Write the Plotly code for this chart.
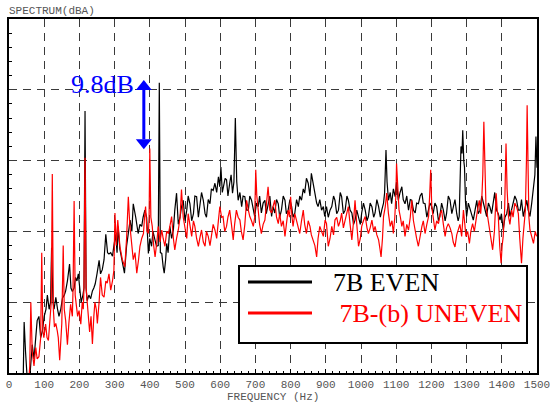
import plotly.graph_objects as go

# ---- data ----
black_freq = [40, 43, 47, 52, 57, 62, 66, 71, 76, 80, 85, 90, 95, 100, 105, 109, 114, 118, 121, 125,
              128, 133, 138, 142, 147, 152, 157, 161, 166, 172, 176, 180, 185, 189, 193, 197, 201, 205, 210, 213,
              216, 219, 222, 227, 232, 237, 241, 245, 250, 256, 260, 265, 270, 275, 280, 284, 289, 294, 298, 303,
              307, 310, 315, 320, 328, 334, 339, 344, 349, 353, 360, 367, 372, 377, 381, 386, 391, 396, 400, 405,
              409, 413, 419, 424, 427, 430, 434, 438, 441, 445, 448, 452, 457, 462, 467, 471, 476, 481, 486, 490,
              495, 500, 505, 509, 514, 519, 524, 528, 533, 538, 542, 547, 552, 557, 561, 566, 571, 575, 580, 585,
              590, 595, 599, 602, 606, 610, 614, 618, 622, 627, 631, 635, 639, 643, 647, 651, 656, 661, 665, 670,
              675, 680, 684, 689, 694, 698, 703, 708, 712, 717, 722, 727, 731, 736, 741, 746, 750, 755, 760, 765,
              769, 774, 779, 784, 788, 793, 798, 803, 807, 812, 817, 822, 826, 831, 836, 840, 845, 850, 855, 859,
              864, 869, 874, 878, 883, 888, 893, 897, 902, 907, 912, 917, 922, 926, 931, 936, 941, 945, 950, 955,
              960, 964, 969, 974, 979, 983, 988, 993, 998, 1002, 1007, 1012, 1017, 1021, 1026, 1031, 1036, 1040, 1045, 1050,
              1055, 1059, 1064, 1067, 1071, 1074, 1078, 1083, 1087, 1092, 1097, 1101, 1106, 1111, 1116, 1120, 1125, 1130, 1135, 1140,
              1144, 1149, 1154, 1158, 1163, 1168, 1173, 1177, 1182, 1187, 1192, 1196, 1201, 1205, 1210, 1215, 1220, 1224, 1229, 1234,
              1239, 1243, 1248, 1253, 1258, 1262, 1267, 1272, 1276, 1279, 1282, 1284, 1287, 1289, 1292, 1294, 1297, 1300, 1305, 1310,
              1314, 1319, 1324, 1329, 1333, 1338, 1343, 1348, 1352, 1357, 1362, 1366, 1371, 1376, 1380, 1385, 1390, 1395, 1399, 1404,
              1409, 1414, 1419, 1423, 1428, 1433, 1437, 1442, 1447, 1452, 1456, 1461, 1466, 1471, 1475, 1480, 1485, 1490, 1494, 1497,
              1500]
black_level = [-2, 7.2, 3, -1, -2, 1, 4, 2, 5, 7.4, 8, 5, 6, 8, 9, 11, 9, 10, 17.7, 10,
               9, 10.7, 9, 8, 9, 10.6, 11, 11.6, 13, 15.4, 12, 11.5, 12, 13.5, 13, 14, 12, 10, 11, 12,
               37, 12, 10.2, 11, 10.5, 11.6, 12, 12.6, 14, 15.9, 14, 14.6, 16, 19.6, 17, 16.8, 17, 16.5, 18, 19.6,
               17, 20.7, 17.5, 16, 14.1, 17.9, 19.5, 21.6, 20, 23.9, 22, 19.7, 21, 20.7, 22, 23, 22, 16.9, 19, 17.9,
               20, 19.3, 17.9, 18, 41, 17, 16.9, 15, 14.1, 16, 18.3, 17, 20.7, 19, 20.2, 23, 25.4, 21, 22, 23.5,
               24.4, 21.5, 23, 25, 23.9, 21.5, 22.5, 25, 24.9, 22, 23.5, 25.5, 24.4, 22.5, 22, 24.5, 23.9, 26, 25.8, 26.8,
               25.5, 27.7, 26.3, 29.1, 25.5, 26.5, 27.5, 27.3, 25, 26.8, 28, 25.4, 27, 36, 27, 24.4, 25.5, 23.5, 25, 24.9,
               23, 23, 25, 24.4, 23, 22.1, 24, 23.5, 25, 22.6, 24, 24.4, 22.5, 23.9, 25, 22.1, 23.5, 22.6, 24.5, 23.9,
               22, 23, 25, 24.4, 22.5, 23, 24.5, 23.5, 22, 22.6, 24.5, 23.5, 25, 24.4, 26, 25.4, 27.5, 26.8, 25, 28.2,
               26.5, 25.4, 24, 23.5, 24.5, 23, 23.5, 22.1, 23.5, 22, 23, 23.5, 25, 24.4, 22.5, 23, 25.5, 24.9, 22.5, 23,
               25, 24.4, 23, 22.6, 21, 21.6, 23, 22.1, 21, 22.6, 24, 23, 21.5, 22.1, 24, 23.5, 22, 22.6, 24.5, 23.5,
               22, 23, 24, 25.4, 31.5, 27, 24.4, 25.5, 23.9, 26, 24.9, 27, 24.4, 25.5, 26.3, 24.5, 23.9, 25, 23, 24.5,
               24.4, 23, 22.6, 24, 23.9, 25, 25.4, 24, 23.9, 22, 23, 24, 23.5, 22.5, 24, 23.5, 21.5, 22.1, 24, 23,
               21.5, 22.5, 25, 24.4, 22.5, 23.5, 24.5, 22.5, 21.5, 22.1, 27, 32, 31, 34.3, 30, 29.1, 24, 22.1, 24, 23,
               22.5, 21.6, 23, 24.4, 22.5, 23, 25, 24, 23, 22.1, 24, 23.5, 22.5, 24.4, 25.5, 23, 22.5, 21.6, 22.5, 20.2,
               22, 22.5, 24, 22.1, 23, 24, 25, 24.4, 23, 23, 24.5, 22.1, 23.5, 24.4, 23, 22.1, 24, 25.9, 28, 33.4,
               29]

red_freq = [55, 59, 62, 64, 66, 71, 76, 80, 85, 90, 93, 96, 99, 104, 108, 112, 118, 120, 123, 126,
            129, 133, 137, 140, 144, 147, 150, 154, 157, 161, 166, 170, 175, 180, 182, 185, 188, 191, 195, 199,
            204, 208, 211, 213, 216, 219, 223, 226, 229, 233, 237, 241, 244, 248, 251, 256, 260, 265, 270, 275,
            279, 284, 289, 294, 298, 301, 305, 309, 315, 322, 329, 334, 339, 343, 346, 350, 353, 358, 363, 368,
            372, 377, 382, 385, 388, 392, 396, 398, 400, 403, 407, 411, 415, 420, 424, 429, 434, 438, 443, 448,
            453, 458, 462, 467, 471, 476, 481, 486, 490, 495, 500, 505, 509, 514, 519, 524, 528, 533, 538, 542,
            547, 552, 557, 561, 566, 571, 576, 580, 585, 590, 595, 599, 604, 608, 613, 618, 622, 627, 632, 637,
            641, 646, 651, 656, 660, 665, 670, 675, 680, 684, 689, 694, 698, 701, 704, 708, 712, 717, 722, 727,
            731, 736, 741, 746, 750, 755, 760, 765, 769, 774, 779, 784, 788, 793, 797, 800, 804, 807, 812, 817,
            822, 826, 831, 836, 840, 845, 850, 855, 859, 864, 869, 874, 878, 883, 888, 893, 898, 902, 907, 912,
            917, 922, 926, 931, 936, 941, 945, 950, 955, 960, 964, 969, 974, 979, 983, 988, 993, 998, 1002, 1007,
            1012, 1017, 1021, 1026, 1031, 1036, 1040, 1045, 1050, 1054, 1057, 1061, 1064, 1069, 1073, 1078, 1083, 1088, 1092, 1096,
            1099, 1101, 1104, 1108, 1112, 1116, 1120, 1125, 1130, 1135, 1140, 1144, 1149, 1154, 1158, 1163, 1168, 1173, 1177, 1182,
            1187, 1192, 1195, 1198, 1201, 1206, 1210, 1215, 1220, 1225, 1229, 1234, 1239, 1243, 1248, 1253, 1258, 1262, 1267, 1272,
            1276, 1281, 1286, 1291, 1295, 1298, 1303, 1308, 1312, 1317, 1322, 1327, 1331, 1336, 1340, 1343, 1346, 1349, 1352, 1355,
            1360, 1365, 1369, 1374, 1379, 1384, 1387, 1390, 1394, 1398, 1401, 1404, 1408, 1410, 1412, 1415, 1419, 1423, 1428, 1432,
            1437, 1442, 1447, 1451, 1456, 1460, 1463, 1467, 1470, 1472, 1475, 1477, 1480, 1485, 1490, 1495, 1499]
red_level = [-2, 1, 10, 4, 3, 1, 3.6, 2, 2.3, 5, 17, 6, 5, 6.9, 5, 4.6, 9.3, 10, 28.1, 9,
             6.5, 7, 6, 5, 1.8, 5, 7, 18, 9, 7.4, 4, 7, 9.7, 8, 12, 24.3, 11, 9.7, 8, 8.8,
             6.9, 10, 9, 12, 30.4, 12, 9.2, 7, 5.8, 8, 4.1, 8, 10, 9, 7, 10, 13.5, 11, 10.7, 13,
             12.7, 14, 11.7, 13, 14.5, 22.6, 18, 21.6, 17.9, 16, 15, 19, 24.9, 21, 19.7, 18, 16, 17, 14.1, 16,
             17.9, 19, 19.7, 22, 23.5, 20, 19.7, 22, 31.7, 22, 20.7, 18, 16.4, 18.5, 20.7, 18.5, 20.2, 19, 17.9, 20,
             19.7, 21, 22.1, 19, 17.4, 19, 20.2, 22, 25.9, 22, 20.7, 19, 22.5, 21, 19.3, 21.5, 20.7, 19, 17.9, 19,
             20.2, 18.5, 17.9, 20, 19.3, 18, 19.7, 21, 20.2, 19, 21.6, 23.5, 22, 22.1, 20, 20.7, 22, 23, 21, 18.8,
             21, 23, 22, 21.6, 20, 18.8, 21, 24.4, 23, 22.1, 21.5, 20.7, 22, 28.7, 25, 23, 21, 19.7, 21, 21.6,
             23.5, 26.3, 23, 22.6, 23.5, 24.4, 22, 21.1, 22.5, 20.7, 21.5, 19.3, 21, 23, 22, 24.9, 22, 20.7, 22.5, 21.6,
             20.5, 19.7, 21.5, 23, 21, 19.7, 21.5, 20.7, 19.5, 18.8, 18, 16.4, 19, 20.7, 20, 19.3, 21.6, 21.1, 17.9, 19,
             20.7, 19.5, 21.6, 22, 20.7, 21.5, 22.6, 20.5, 21.6, 22.5, 23.5, 21, 18.8, 21.5, 24.4, 21, 17.9, 19, 20.7, 21.5,
             22.1, 20.5, 19.7, 20.5, 21.6, 20, 20.7, 19.5, 18.8, 17.5, 16.4, 19, 22.1, 23.5, 25.4, 22.5, 20.7, 21.5, 19.7, 22,
             25, 29.6, 26, 23, 22, 20.7, 21.5, 19.3, 21, 20.2, 22, 24.4, 21.5, 19.7, 19, 17.9, 19.5, 20.7, 21.5, 19.7,
             21, 22.1, 25, 28.7, 23.5, 22, 20.2, 21.5, 21.1, 22.5, 23, 21, 19.3, 20.5, 21.1, 20.5, 19.7, 18.5, 17.8, 19.5,
             20.2, 21, 19.3, 23, 21, 19.3, 20, 18.3, 20, 21.1, 20, 22.1, 23, 24.4, 22.5, 24.4, 28, 35.5, 27, 23.5,
             22, 20.2, 19, 17.4, 20, 25.4, 23, 22.1, 18, 15.5, 18, 19.3, 23, 28, 32.4, 26, 22.1, 21, 23, 22,
             24, 23.5, 22.5, 19, 15.5, 19, 21.1, 23, 30, 37.8, 28, 22, 20.2, 19, 18.3, 20, 19.3]

x_ticks = [0, 100, 200, 300, 400, 500, 600, 700, 800, 900, 1000, 1100, 1200, 1300, 1400, 1500]
series_names = ["7B EVEN", " 7B-(b) UNEVEN"]
series_colors = ["#000000", "#ff0000"]
diff_label = "9.8dB"
arrow_freq = 383
arrow_top = 41.4
arrow_bottom = 31.6

# ---- figure ----
W, H = 550, 403
L, R, T, B = 9, 13, 19, 30
PW, PH = W - L - R, H - T - B


def px(x):
    return (x - L) / PW


def py(y):
    return (H - B - y) / PH


mono = "Liberation Mono, Courier New, monospace"
serif = "Liberation Serif, Times New Roman, serif"
grid_col = "#3a3a3a"

fig = go.Figure()
fig.add_trace(go.Scatter(x=black_freq, y=black_level, mode="lines",
                         line=dict(color=series_colors[0], width=1.2), showlegend=False))
fig.add_trace(go.Scatter(x=red_freq, y=red_level, mode="lines",
                         line=dict(color=series_colors[1], width=1.2), showlegend=False))

fig.update_layout(
    width=W, height=H,
    margin=dict(l=L, r=R, t=T, b=B, pad=0, autoexpand=False),
    paper_bgcolor="white", plot_bgcolor="white",
    showlegend=False,
    xaxis=dict(range=[0, 1500], tickvals=x_ticks, ticktext=[str(v) for v in x_ticks],
               ticks="inside", ticklen=4, tickwidth=1, ticklabeloverflow="allow", automargin=False,
               tickcolor="black", showgrid=True, gridcolor=grid_col, griddash="8px,6px", gridwidth=1,
               showline=True, linewidth=2, linecolor="black", mirror=True, zeroline=False,
               tickfont=dict(family=mono, size=11, color="#555"),
               minor=dict(dtick=20, ticks="inside", ticklen=2, tickcolor="black", showgrid=False)),
    yaxis=dict(range=[0, 50], dtick=10, showticklabels=False, ticks="", showgrid=True, automargin=False,
               gridcolor=grid_col, griddash="8px,6px", gridwidth=1,
               showline=True, linewidth=2, linecolor="black", mirror=True, zeroline=False,
               minor=dict(dtick=2, ticks="inside", ticklen=3, tickcolor="black", showgrid=False)),
)

shapes = []
# legend box
shapes.append(dict(type="rect", xref="paper", yref="paper", x0=px(239), x1=px(527), y0=py(343), y1=py(266),
                   fillcolor="white", line=dict(color="black", width=2), layer="above"))
for i, yy in enumerate([282, 313]):
    shapes.append(dict(type="line", xref="paper", yref="paper", x0=px(248), x1=px(312), y0=py(yy), y1=py(yy),
                       line=dict(color=series_colors[i], width=3), layer="above"))
# double-headed arrow
head_h = 10 / PH * 50
head_w = 8 / PW * 1500
shapes.append(dict(type="line", xref="x", yref="y", x0=arrow_freq, x1=arrow_freq,
                   y0=arrow_bottom + head_h, y1=arrow_top - head_h,
                   line=dict(color="#0000ff", width=3), layer="above"))
shapes.append(dict(type="path", xref="x", yref="y",
                   path=f"M {arrow_freq},{arrow_top} L {arrow_freq - head_w},{arrow_top - head_h} "
                        f"L {arrow_freq + head_w},{arrow_top - head_h} Z",
                   fillcolor="#0000ff", line=dict(color="#0000ff", width=0), layer="above"))
shapes.append(dict(type="path", xref="x", yref="y",
                   path=f"M {arrow_freq},{arrow_bottom} L {arrow_freq - head_w},{arrow_bottom + head_h} "
                        f"L {arrow_freq + head_w},{arrow_bottom + head_h} Z",
                   fillcolor="#0000ff", line=dict(color="#0000ff", width=0), layer="above"))
fig.update_layout(shapes=shapes)

ann = []
ann.append(dict(text=series_names[0], xref="paper", yref="paper", x=px(331), y=py(282),
                xanchor="left", yanchor="middle", showarrow=False,
                font=dict(family=serif, size=26, color=series_colors[0])))
ann.append(dict(text=series_names[1], xref="paper", yref="paper", x=px(331), y=py(313),
                xanchor="left", yanchor="middle", showarrow=False,
                font=dict(family=serif, size=26, color=series_colors[1])))
ann.append(dict(text=diff_label, xref="paper", yref="paper", x=px(102), y=py(84),
                xanchor="center", yanchor="middle", showarrow=False,
                font=dict(family=serif, size=26, color="#0000ff")))
ann.append(dict(text="SPECTRUM(dBA)", xref="paper", yref="paper", x=px(7), y=py(11),
                xanchor="left", yanchor="middle", showarrow=False,
                font=dict(family=mono, size=11, color="#555")))
ann.append(dict(text="FREQUENCY (Hz)", xref="paper", yref="paper", x=px(273), y=py(397),
                xanchor="center", yanchor="middle", showarrow=False,
                font=dict(family=mono, size=11, color="#555")))
fig.update_layout(annotations=ann)

fig.write_html("out.html", config={"displayModeBar": False},
               post_script="document.body.style.margin='0';document.body.style.overflow='hidden';")
